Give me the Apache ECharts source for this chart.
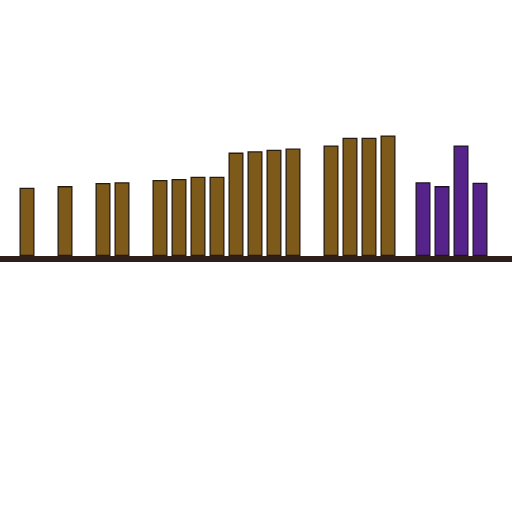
<!DOCTYPE html>
<html>
<head>
<meta charset="utf-8">
<script src="https://cdn.jsdelivr.net/npm/echarts@6/dist/echarts.min.js"></script>
<style>
  html, body { margin: 0; padding: 0; background: #fff; }
  #main { width: 512px; height: 512px; }
</style>
</head>
<body>
<div id="main"></div>
<script>
// categories (not labelled in the picture)
var slots = []
for (var i = 0; i < 28; i++) {
  slots.push('s' + i)
}
// brown series, '-' = empty slot
var brownValues = ['-', '-', 26.7, '-', 27.3, '-', 28.5, 28.8, '-', 29.7, 30.1, 31.0, 31.0, 40.4,
  40.9, 41.5, 42.0, '-', 43.2, 46.2, 46.2, 47.1, '-', '-', '-', '-', '-', '-']
// purple series
var purpleValues = ['-', '-', '-', '-', '-', '-', '-', '-', '-', '-', '-', '-', '-', '-',
  '-', '-', '-', '-', '-', '-', '-', '-', 28.8, 27.3, 43.2, 28.6, '-', '-']

var chart = echarts.init(document.getElementById('main'))

var option = {
  animation: false,
  grid: {
    left: -12.5,
    width: 532,
    top: 0,
    bottom: 256,
    containLabel: false,
    outerBoundsMode: 'none'
  },
  xAxis: {
    type: 'category',
    data: slots,
    boundaryGap: true,
    offset: 3,
    axisLine: {
      show: true,
      onZero: false,
      lineStyle: { color: '#2e1f1b', width: 6 }
    },
    axisTick: { show: false },
    axisLabel: { show: false },
    splitLine: { show: false }
  },
  yAxis: {
    type: 'value',
    min: 0,
    max: 100,
    show: false
  },
  series: [{
    type: 'bar',
    name: 'brown',
    data: brownValues,
    barWidth: 15,
    barGap: '6.7%',
    itemStyle: {
      color: '#7d5a1a',
      borderColor: '#241b10',
      borderWidth: 1.3
    }
  }, {
    type: 'bar',
    name: 'purple',
    data: purpleValues,
    barWidth: 15,
    itemStyle: {
      color: '#55238a',
      borderColor: '#1f1426',
      borderWidth: 1.3
    }
  }]
}
chart.setOption(option)
</script>
</body>
</html>
